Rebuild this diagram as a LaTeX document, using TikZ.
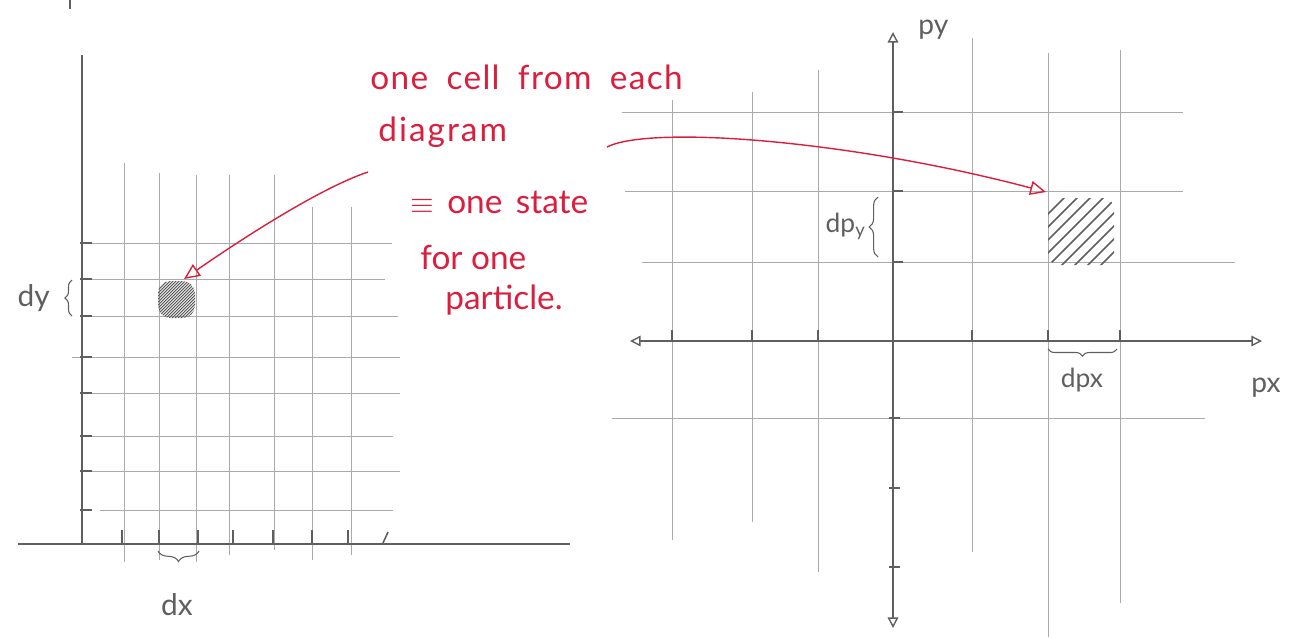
\documentclass[tikz,border=0pt]{standalone}
\usepackage{fontspec}
\setmainfont{Lato}
\usepackage{tikz}
\usetikzlibrary{arrows.meta, decorations.pathreplacing}
\definecolor{penred}{RGB}{218,30,62}
\definecolor{pencil}{RGB}{95,95,95}
\definecolor{gridgray}{RGB}{170,170,170}

\begin{document}
\begin{tikzpicture}[x=0.02cm, y=-0.02cm,
		gridline/.style={gridgray, line width=0.5pt},
		axisline/.style={pencil, line width=0.8pt},
		tickmark/.style={pencil, line width=0.9pt},
		hatchpen/.style={pencil, line width=0.6pt},
		statearrow/.style={penred, line width=0.8pt, -{Triangle[open, length=9pt, width=8pt]}},
		axisarrow/.style={axisline, {Triangle[open, length=6pt, width=6pt]}-{Triangle[open, length=6pt, width=6pt]}},
		notetext/.style={penred, font=\fontsize{19}{22}\selectfont, anchor=west, inner sep=0pt},
		labeltext/.style={pencil, font=\fontsize{17}{20}\selectfont, inner sep=0pt},
		curly/.style={pencil, line width=0.6pt, decorate, decoration={brace, amplitude=#1}}]
		\useasboundingbox (0,0) rectangle (1295,637);
		% stray pencil mark
		\draw[axisline] (70,0) -- (70,9);
		% Position space: grid
		\foreach \gx/\gtop/\gbot in {124/163/562, 159/173/560, 196/175/562, 229/175/555, 274/175/550, 312/207/560, 351/207/555}
			\draw[gridline] (\gx,\gtop) -- (\gx,\gbot);
		\foreach \gy/\gl/\gr in {243/90/392, 279/90/385, 316/90/398, 357/72/400, 393/90/400, 436/90/393, 471/90/400, 510/100/393}
			\draw[gridline] (\gl,\gy) -- (\gr,\gy);
		% Position space: axes and ticks
		\draw[axisline] (82,55) -- (82,544);
		\draw[axisline] (18,544) -- (570,544);
		\foreach \gy in {243, 279, 316, 357, 393, 436, 471, 510}
			\draw[tickmark] (80,\gy) -- (92,\gy);
		\foreach \gx in {122, 159, 198, 233, 273, 312, 348}
			\draw[tickmark] (\gx,530) -- (\gx,544);
		\draw[tickmark] (383,543) -- (388,532);
		% shaded cell dx dy
		\begin{scope}
			\clip[rounded corners=7] (158,281) rectangle (195,318);
			\foreach \k in {110,113,...,200}
				\draw[hatchpen] (\k,320) -- ++(42,-42);
		\end{scope}
		\draw[curly=4pt] (72,316) -- (72,280);
		\node[labeltext, anchor=east] (dylabel) at (50,298) {dy};
		\draw[curly=6pt] (199,551) -- (158,551);
		\node[labeltext] (dxlabel) at (177,605) {dx};
		% Momentum space: grid
		\foreach \gx/\gtop/\gbot in {672/100/540, 752/92/522, 818/70/572, 972/38/552, 1048/53/637, 1120/50/603}
			\draw[gridline] (\gx,\gtop) -- (\gx,\gbot);
		\foreach \gy/\gl/\gr in {112/622/1183, 191/625/1183, 262/642/1235, 418/612/1205}
			\draw[gridline] (\gl,\gy) -- (\gr,\gy);
		% Momentum space: axes and ticks
		\draw[axisarrow] (893,628) -- (893,32);
		\draw[axisarrow] (630,341) -- (1262,341);
		\foreach \gy in {112, 191, 262}
			\draw[tickmark] (893,\gy) -- (903,\gy);
		\foreach \gy in {418, 488, 567}
			\draw[tickmark] (889,\gy) -- (900,\gy);
		\foreach \gx in {672, 752, 818, 972, 1048, 1120}
			\draw[tickmark] (\gx,330) -- (\gx,341);
		\node[labeltext, font=\fontsize{16}{19}\selectfont, anchor=west] (pylabel) at (918,30) {py};
		\node[labeltext, font=\fontsize{16}{19}\selectfont] (pxlabel) at (1266,388) {px};
		% shaded cell dpx dpy
		\begin{scope}
			\clip[rounded corners=6] (1048,198) rectangle (1114,265);
			\foreach \c in {1262,1275,...,1376}
				\draw[hatchpen, line width=0.9pt] (\c-280,280) -- (\c-185,185);
		\end{scope}
		\draw[curly=5pt] (878,257) -- (878,197);
		\node[labeltext, font=\fontsize{15}{18}\selectfont, anchor=east] (dpylabel) at (866,226) {dp\textsubscript{y}};
		\draw[curly=4pt] (1117,349) -- (1048,349);
		\node[labeltext, font=\fontsize{15}{18}\selectfont] (dpxlabel) at (1082,380) {dpx};
		% Note in red
		\node[notetext] (note1) at (370,77) {\addfontfeature{LetterSpace=4}\spaceskip=0.55em one cell from each};
		\node[notetext] (note2) at (378,132) {\addfontfeature{LetterSpace=6}diagram};
		\node[notetext] (note3) at (410,202) {\spaceskip=0.4em $\equiv$ one state};
		\node[notetext] (note4) at (420,257) {for one};
		\node[notetext] (note5) at (445,300) {particle.};
		\coordinate (lstart) at (368,172);
		\coordinate (rstart) at (607,147);
		\coordinate (lcell) at (184,279);
		\coordinate (rcell) at (1046,192);
		\draw[statearrow] (lstart) .. controls (320,188) and (240,240) .. (lcell);
		\draw[statearrow] (rstart) .. controls (650,125) and (850,140) .. (rcell);
	\end{tikzpicture}
\end{document}
